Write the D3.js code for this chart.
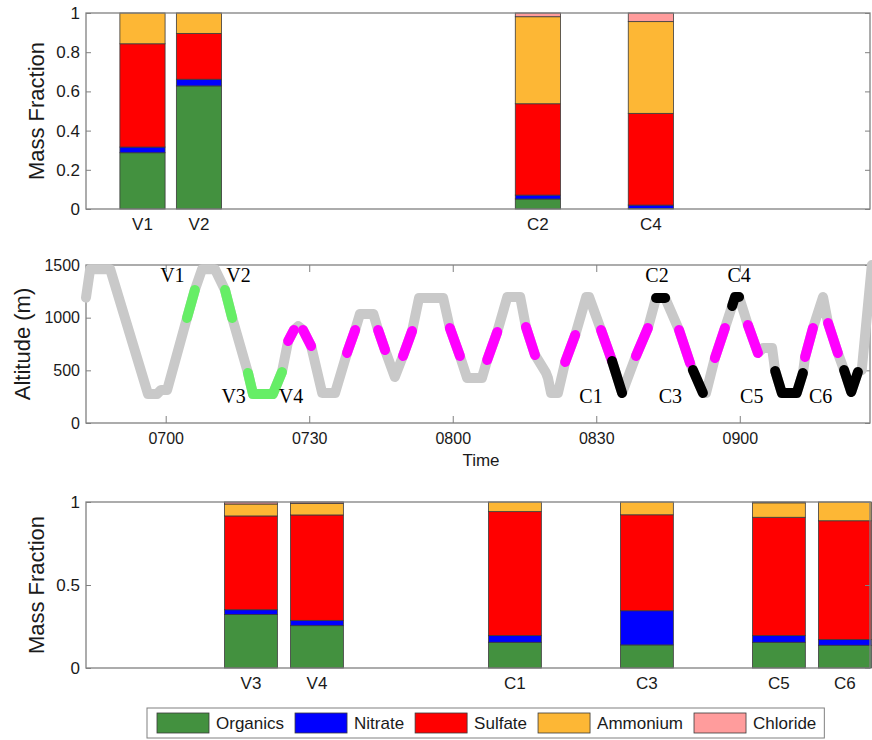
<!DOCTYPE html>
<html><head><meta charset="utf-8">
<script src="https://cdn.jsdelivr.net/npm/d3@7"></script>
<style>
body{margin:0;background:#fff;}
svg{display:block;font-family:"Liberation Sans",Arial,sans-serif;}
</style></head><body>
<svg id="chart" width="872" height="740"></svg>
<script>
// ---------- DATA ----------
const species = ["Organics","Nitrate","Sulfate","Ammonium","Chloride"];
const speciesColors = ["#43913f","#0000ff","#ff0000","#fdb735","#ff9c9c"];

const topSamples = ["V1","V2","C2","C4"];
const topSlots = [1,2,8,10];
const topOrganics = [0.287,0.628,0.051,0.003];
const topNitrate  = [0.029,0.034,0.020,0.017];
const topSulfate  = [0.527,0.234,0.466,0.468];
const topAmmonium = [0.157,0.104,0.444,0.468];
const topChloride = [0.000,0.000,0.019,0.044];
const topYTicks = [0,0.2,0.4,0.6,0.8,1];
const topYTickLabels = ["0","0.2","0.4","0.6","0.8","1"];

const bottomSamples = ["V3","V4","C1","C3","C5","C6"];
const bottomSlots = [3,4,7,9,11,12];
const bottomOrganics = [0.323,0.255,0.155,0.139,0.155,0.137];
const bottomNitrate  = [0.028,0.032,0.040,0.206,0.040,0.034];
const bottomSulfate  = [0.565,0.635,0.747,0.578,0.713,0.716];
const bottomAmmonium = [0.072,0.070,0.058,0.077,0.087,0.113];
const bottomChloride = [0.012,0.008,0.000,0.000,0.005,0.000];
const bottomYTicks = [0,0.5,1];
const bottomYTickLabels = ["0","0.5","1"];

// flight track: minutes after 07:00 and altitude (m)
const flightTime = [-16.66,-15.8,-11.6,-3.7,-1.8,-1.0,0.3,4.45,6.1,7.6,10.3,12.4,13.9,17.2,18.25,22.4,24.3,25.6,26.8,27.7,28.7,30.4,32.7,35.4,37.9,39.6,40.6,43.4,44.4,45.85,47.9,49.6,51.5,52.95,58.0,59.4,61.5,63.0,66.1,67.2,69.3,71.4,74.1,75.3,77.2,79.5,79.9,80.55,82.0,83.5,85.6,87.9,88.5,91.0,93.3,95.4,98.3,100.8,102.5,104.4,107.3,109.6,110.2,112.3,112.95,114.8,116.9,118.4,119.0,119.85,121.7,123.8,124.9,126.75,127.4,128.8,131.9,133.2,133.65,135.3,137.4,138.45,140.5,141.8,143.3,144.7,145.5,147.6];
const flightAlt  = [1190,1460,1460,275,275,313,313,997,1263,1460,1460,1263,997,475,275,275,484,778,883,920,883,731,285,285,665,883,1035,1035,883,693,437,636,873,1187,1187,902,636,427,427,598,864,1196,1196,911,646,475,427,285,285,579,835,1196,1196,883,589,285,636,902,1187,1187,883,570,503,285,285,617,902,1111,1196,1196,930,665,712,712,494,285,285,475,627,902,1196,949,665,503,294,484,503,1500];

// highlighted sampling legs: kind, start, end (minutes after 07:00)
const segKind  = ["V","V","V","M","M","M","M","M","M","M","M","M","M","M","M","M","M","M","M","C","C","C","C","C","C"];
const segStart = [4.45,12.4,17.2,25.6,28.7,37.9,44.4,49.6,59.4,67.2,75.3,83.5,91.0,98.3,107.3,114.8,121.7,133.65,138.45,93.3,102.5,110.2,118.4,127.4,141.8];
const segEnd   = [6.1,13.9,24.3,26.8,30.4,39.6,45.85,51.5,61.5,69.3,77.2,85.6,93.3,100.8,109.6,116.9,123.8,135.3,140.5,95.4,104.4,112.3,119.85,133.2,144.7];
const segKinds = ["V","M","C"];
const segColors = ["#66ee66","#ff00ff","#000000"];

const annText = ["V1","V2","V3","V4","C1","C2","C3","C4","C5","C6"];
const annTime = [1.4,15.2,14.2,26.2,88.9,102.7,105.5,119.85,122.5,136.9];
const annAlt  = [1340,1340,190,190,190,1340,190,1340,190,190];

const timeDomain = [-16.66,147.22];
const timeTicks = [0,30,60,90,120];
const timeTickLabels = ["0700","0730","0800","0830","0900"];
const altTicks = [0,500,1000,1500];
const altTickLabels = ["0","500","1000","1500"];

// ---------- DRAW ----------
const svg = d3.select("#chart");
svg.append("rect").attr("width",872).attr("height",740).attr("fill","#fff");
const L = 86, R = 870;
const axisCol = "#808080", textCol = "#1a1a1a";

function styleAxis(g, fs){
  g.select(".domain").remove();
  g.selectAll(".tick line").attr("stroke",axisCol).attr("stroke-width",1);
  g.selectAll(".tick text").attr("fill",textCol).attr("font-size",fs).attr("font-family","Liberation Sans, Arial, sans-serif");
}

function barPanel(top, bottom, samples, slots, cols, xDomain, yTicks, yLabels){
  const x = d3.scaleLinear().domain(xDomain).range([L,R]);
  const y = d3.scaleLinear().domain([0,1]).range([bottom,top]);
  const rows = samples.map((s,i)=>{
    const o = {sample:s, slot:slots[i]};
    species.forEach((k,j)=>o[k]=cols[j][i]);
    return o;
  });
  const stacked = d3.stack().keys(species)(rows);
  const g = svg.append("g");
  stacked.forEach((layer,j)=>{
    g.selectAll(null).data(layer).enter().append("rect")
      .attr("x",d=>x(d.data.slot-0.4))
      .attr("width",d=>x(d.data.slot+0.4)-x(d.data.slot-0.4))
      .attr("y",d=>y(d[1]))
      .attr("height",d=>Math.max(0,y(d[0])-y(d[1])))
      .attr("fill",speciesColors[j])
      .attr("stroke","#3a3a3a").attr("stroke-width",0.8);
  });
  const ya = svg.append("g").attr("transform",`translate(${L},0)`)
    .call(d3.axisLeft(y).tickValues(yTicks).tickFormat((d,i)=>yLabels[i]).tickSize(-5).tickPadding(6));
  styleAxis(ya,17);
  const yr = svg.append("g").attr("transform",`translate(${R},0)`)
    .call(d3.axisRight(y).tickValues(yTicks).tickFormat("").tickSize(-5));
  styleAxis(yr,17);
  svg.append("rect").attr("x",L).attr("y",top).attr("width",R-L).attr("height",bottom-top)
    .attr("fill","none").attr("stroke",axisCol).attr("stroke-width",1.3);
  svg.selectAll(null).data(rows).enter().append("text")
    .attr("x",d=>x(d.slot)).attr("y",bottom+21)
    .attr("text-anchor","middle").attr("font-size",17).attr("fill",textCol)
    .text(d=>d.sample);
  svg.append("text").attr("transform",`translate(36,${(top+bottom)/2}) rotate(-90)`)
    .attr("text-anchor","middle").attr("dy","0.35em").attr("font-size",22).attr("fill",textCol)
    .text("Mass Fraction");
}

barPanel(13,209,topSamples,topSlots,[topOrganics,topNitrate,topSulfate,topAmmonium,topChloride],[0,13.88],topYTicks,topYTickLabels);
barPanel(502,668,bottomSamples,bottomSlots,[bottomOrganics,bottomNitrate,bottomSulfate,bottomAmmonium,bottomChloride],[0.5,12.38],bottomYTicks,bottomYTickLabels);

// middle panel
const mTop = 265, mBot = 423;
const xt = d3.scaleLinear().domain(timeDomain).range([L,R]);
const ya = d3.scaleLinear().domain([0,1500]).range([mBot,mTop]);
const track = flightTime.map((t,i)=>[t,flightAlt[i]]);
const line = d3.line().x(d=>xt(d[0])).y(d=>ya(d[1]));

svg.append("rect").attr("x",L).attr("y",mTop).attr("width",R-L).attr("height",mBot-mTop)
  .attr("fill","none").attr("stroke",axisCol).attr("stroke-width",1.3);

const xb = svg.append("g").attr("transform",`translate(0,${mBot})`)
  .call(d3.axisBottom(xt).tickValues(timeTicks).tickFormat((d,i)=>timeTickLabels[i]).tickSize(-7).tickPadding(10));
styleAxis(xb,16);
const xtp = svg.append("g").attr("transform",`translate(0,${mTop})`)
  .call(d3.axisTop(xt).tickValues(timeTicks).tickFormat("").tickSize(-7));
styleAxis(xtp,16);
const yl = svg.append("g").attr("transform",`translate(${L},0)`)
  .call(d3.axisLeft(ya).tickValues(altTicks).tickFormat((d,i)=>altTickLabels[i]).tickSize(-5).tickPadding(6));
styleAxis(yl,16);
const yrr = svg.append("g").attr("transform",`translate(${R},0)`)
  .call(d3.axisRight(ya).tickValues(altTicks).tickFormat("").tickSize(-5));
styleAxis(yrr,16);

svg.append("path").datum(track).attr("d",line)
  .attr("fill","none").attr("stroke","#c9c9c9").attr("stroke-width",10)
  .attr("stroke-linejoin","round").attr("stroke-linecap","round");

segKind.forEach((k,i)=>{
  const pts = track.filter(p=>p[0]>=segStart[i]-1e-6 && p[0]<=segEnd[i]+1e-6);
  svg.append("path").datum(pts).attr("d",line)
    .attr("fill","none").attr("stroke",segColors[segKinds.indexOf(k)]).attr("stroke-width",10)
    .attr("stroke-linejoin","round").attr("stroke-linecap","round");
});

annText.forEach((s,i)=>{
  svg.append("text").attr("x",xt(annTime[i])).attr("y",ya(annAlt[i]))
    .attr("text-anchor","middle").attr("font-family","Liberation Serif, Times New Roman, serif")
    .attr("font-size",20).attr("fill","#000").text(s);
});

svg.append("text").attr("x",(L+R)/2+3).attr("y",466).attr("text-anchor","middle")
  .attr("font-size",17).attr("fill",textCol).text("Time");
svg.append("text").attr("transform",`translate(22,${(mTop+mBot)/2}) rotate(-90)`)
  .attr("text-anchor","middle").attr("dy","0.35em").attr("font-size",22).attr("fill",textCol)
  .text("Altitude (m)");

// legend
const lg = svg.append("g");
const lgBox = lg.append("rect").attr("x",147).attr("y",708).attr("height",30)
  .attr("fill","#fff").attr("stroke",axisCol).attr("stroke-width",1);
let cx = 157;
species.forEach((s,i)=>{
  lg.append("rect").attr("x",cx).attr("y",713).attr("width",52).attr("height",20)
    .attr("fill",speciesColors[i]).attr("stroke","#3a3a3a").attr("stroke-width",0.8);
  const t = lg.append("text").attr("x",cx+59).attr("y",729).attr("font-size",17).attr("fill",textCol).text(s);
  cx += 59 + t.node().getComputedTextLength() + 11;
});
lgBox.attr("width",cx-147-3);
</script>
</body></html>
